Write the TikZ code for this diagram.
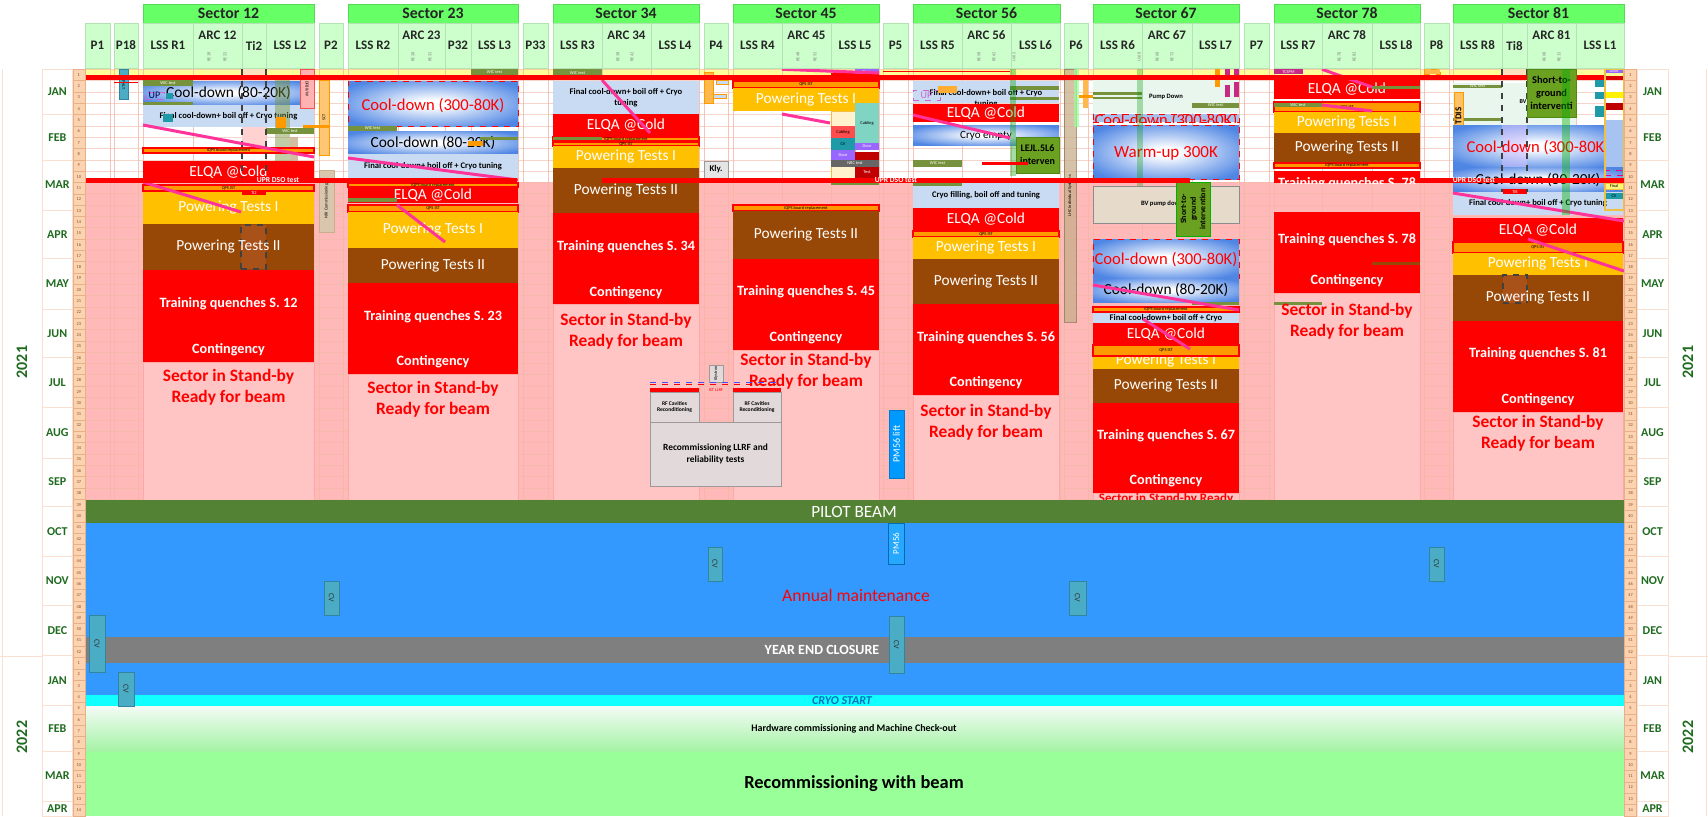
\documentclass[tikz,border=0pt]{standalone}
\usepackage{fontspec}
\setmainfont{Carlito}
\definecolor{hdrg}{HTML}{66FF66}
\definecolor{subg}{HTML}{CCFFCC}
\definecolor{subgb}{HTML}{B3E3B3}
\definecolor{mon}{HTML}{1F6B1F}
\definecolor{wkc}{HTML}{FBD3B0}
\definecolor{wkb}{HTML}{E8B088}
\definecolor{wkt}{HTML}{8A4A20}
\definecolor{powI}{HTML}{FFC000}
\definecolor{powII}{HTML}{974806}
\definecolor{lbl}{HTML}{C9DBF2}
\definecolor{coolb}{HTML}{4F86E4}
\definecolor{coolb2}{HTML}{A9C4F2}
\definecolor{qpso}{HTML}{FF9900}
\definecolor{wicg}{HTML}{76923C}
\definecolor{pinkbg}{HTML}{FFB9B9}
\definecolor{sbpink}{HTML}{FFC4C4}
\definecolor{sbline}{HTML}{FFA8A8}
\definecolor{mag}{HTML}{FF3399}
\definecolor{pilot}{HTML}{548235}
\definecolor{maint}{HTML}{3399FF}
\definecolor{yec}{HTML}{7F7F7F}
\definecolor{cyanb}{HTML}{11FFFF}
\definecolor{hwtop}{HTML}{F4FBF6}
\definecolor{hwbot}{HTML}{A3F3A3}
\definecolor{recom}{HTML}{99FF99}
\definecolor{cvt}{HTML}{4BACC6}
\definecolor{cvtb}{HTML}{31859C}
\definecolor{stg}{HTML}{6AA121}
\definecolor{stgb}{HTML}{4E8A12}
\definecolor{gridc}{HTML}{F2B8A8}
\definecolor{rfg}{HTML}{E2DADA}
\definecolor{rfgb}{HTML}{A09898}
\definecolor{tanc}{HTML}{C8AE8A}
\definecolor{peach}{HTML}{FCE0C0}
\definecolor{mint}{HTML}{E8F6EE}
\definecolor{lyel}{HTML}{FFFF99}
\definecolor{purp}{HTML}{9966FF}
\definecolor{dred}{HTML}{C00000}
\definecolor{tealc}{HTML}{1F9AA8}
\definecolor{cablc}{HTML}{7FD4C4}
\definecolor{crblue}{HTML}{0070C0}
\definecolor{pmc}{HTML}{0099FF}
\definecolor{upc}{HTML}{CC66CC}
\definecolor{lemon}{HTML}{FFF2CC}
\definecolor{ambr}{HTML}{F2C040}
\definecolor{mcell}{HTML}{F9E0D0}
\definecolor{tibox}{HTML}{A8521A}
\pgfdeclareradialshading{coolsh}{\pgfpoint{0bp}{0bp}}{color(0bp)=(white); color(4bp)=(white); color(17bp)=(coolb2); color(31bp)=(coolb); color(50bp)=(coolb)}
\newcommand\fsz[2]{\fontsize{#1}{#2}\selectfont}
\newcommand\bk[6]{\node[bkb,#6,minimum width={(#4-(#2))*0.5pt},minimum height={(#5-(#3))*0.5pt}] (#1) at ({(#2+#4)/2},{(#3+#5)/2}) {};}
\newcommand\bkt[8]{\bk{#1}{#2}{#3}{#4}{#5}{#6}\node[#7] (#1-t) at (#1.center) {#8};}
\tikzset{
 bkb/.style={rectangle, inner sep=0pt, outer sep=0pt},
 redb/.style={fill=red},
 pIb/.style={fill=powI},
 pIIb/.style={fill=powII},
 lbb/.style={fill=lbl},
 coolbx/.style={shading=coolsh},
 coolrd/.style={shading=coolsh, draw=red, dashed, line width=0.5pt},
 qpsb/.style={fill=qpso, draw=red, line width=0.8pt},
 wicb/.style={fill=wicg},
 sbb/.style={fill=sbpink, draw=sbline, line width=0.3pt},
 twt/.style={inner sep=0pt, align=center, text=white, font=\fsz{7.7}{9}},
 tbk/.style={inner sep=0pt, align=center, text=black, font=\fsz{7.7}{9}},
 trd/.style={inner sep=0pt, align=center, text=red, font=\fsz{8.3}{9}},
 twbd/.style={inner sep=0pt, align=center, text=white, font=\bfseries\fsz{7.1}{8}},
 sbt/.style={inner sep=0pt, align=center, text=red, font=\bfseries\fsz{8.7}{10.5}},
 fint/.style={inner sep=0pt, align=center, text=black, font=\bfseries\fsz{4.3}{5.5}},
 tnyt/.style={inner sep=0pt, align=center, font=\fsz{2.2}{2.6}},
 mline/.style={mag, line width=1.5pt},
 moncell/.style={fill=white, draw=mcell, line width=0.3pt},
 mont/.style={inner sep=0pt, font=\bfseries\fsz{6}{6}, text=mon},
 wkcell/.style={rectangle, fill=wkc, draw=wkb, line width=0.2pt, inner sep=0pt, minimum width=6.15pt, minimum height=5.655pt, font=\fsz{2.2}{2.4}, text=wkt},
 sechd/.style={fill=hdrg, draw=hdrg!85!black, line width=0.3pt},
 sechdt/.style={inner sep=0pt, font=\bfseries\fsz{7.9}{8}, text=black!85},
 subhd/.style={fill=subg, draw=subgb, line width=0.4pt},
 subhdt/.style={inner sep=0pt, font=\bfseries\fsz{6.5}{7}, text=black!85},
 arcl/.style={inner sep=0pt, rotate=90, font=\fsz{2.2}{2.4}, text=black!50},
 yrt/.style={inner sep=0pt, rotate=90, font=\bfseries\fsz{8}{8}, text=mon},
 cvb/.style={fill=cvt, draw=cvtb, line width=0.4pt},
 cvtx/.style={inner sep=0pt, rotate=-90, font=\fsz{4}{4}, text=black!80},
 rfbox/.style={fill=rfg, draw=rfgb, line width=0.5pt},
 dashv/.style={black!75, dashed, line width=0.6pt},
}
\begin{document}
\begin{tikzpicture}[x=0.5pt,y=-0.5pt]
\useasboundingbox (0,0) rectangle (1708,816);
\fill[white] (0,0) rectangle (1708,816);
% backgrounds
\fill[pinkbg] (85,182) rectangle (1624,500);
\fill[lyel] (85,69.3) rectangle (1624,80);
\foreach \r in {0,...,38}{\draw[gridc, opacity=0.6, line width=0.25pt] (85,{69.3+\r*11.31}) -- (1624,{69.3+\r*11.31});}
\foreach \x in {85,110,114,138,143,193,242,266,314,319,343,348,398,445,471,518,523,548,553,602,651,699,704,728,733,782,831,879,883,908,913,962,1011,1060,1064,1088,1093,1142,1192,1239,1244,1269,1274,1322,1372,1420,1424,1449,1453,1502,1527,1576,1624}{\draw[gridc, opacity=0.8, line width=0.25pt] (\x,69.3) -- (\x,500);}
% stand-by boxes
\bk{sb12}{143}{362}{314}{500}{sbb}
\bk{sb23}{348}{374}{518}{500}{sbb}
\bk{sb34}{553}{304}{699}{500}{sbb}
\bk{sb45}{733}{350}{879}{500}{sbb}
\bk{sb56}{913}{395}{1059}{500}{sbb}
\bk{sb67}{1093}{493}{1239}{500}{sbb}
\bk{sb78}{1274}{293}{1420}{500}{sbb}
\bk{sb81}{1453}{412}{1623}{500}{sbb}
% ---------------- Sector 12
\bkt{s12cd}{143}{81}{314}{104}{coolbx}{tbk}{Cool-down (80-20K)}
\bkt{s12w1}{143}{80}{193}{86}{wicb}{tnyt,text=white}{WIC test}
\bk{s12w2}{143}{102}{193}{106}{wicb}
\bkt{s12up}{145}{92}{164}{99}{draw=upc, dashed, line width=0.4pt}{inner sep=0pt, font=\fsz{5}{5}, text=black!70!blue}{UP}
\bk{s12tl}{166}{93}{173}{99}{fill=tealc}
\bkt{s12fc}{143}{105}{314}{127}{lbb}{fint}{Final cool-down+ boil off + Cryo tuning}
\bk{s12t2}{163}{114}{173}{122}{fill=tealc}
\bk{s12tia}{242}{69.3}{266}{80}{fill=peach}
\bk{s12tib}{242}{127}{266}{152}{fill=red!18}
\bk{s12ugr}{275}{80}{290}{180}{fill=wicg, opacity=0.45}
\bk{s12or}{276}{117}{286}{128}{fill=qpso}
\bkt{s12dfb}{300}{69.3}{314}{108}{fill=red!30, draw=red!70, line width=0.4pt}{tnyt, rotate=-90}{DFBX/W}
\bkt{s12w3}{266}{128}{314}{134}{wicb}{tnyt,text=white}{WIC test}
\bk{s12tn}{290}{137}{298}{168}{fill=tanc, opacity=0.8}
\bkt{s12iq}{143}{148}{314}{153}{qpsb}{tnyt}{iQPS board replacement}
\bkt{s12el}{143}{161}{314}{183}{redb}{twt}{ELQA @Cold}
\bkt{s12qi}{143}{185}{314}{191}{qpsb}{tnyt}{QPS IST}
\bkt{s12p1}{143}{192}{314}{224}{pIb}{twt}{Powering Tests I}
\bkt{s12ti}{242}{190}{266}{195}{redb}{tnyt,text=white}{Ti2}
\bk{s12p2}{143}{224}{314}{270}{pIIb}
\bk{s12d}{241}{225}{266}{269}{fill=tibox, draw=black!75, dashed, line width=0.6pt}
\node[twt] (s12p2t) at (s12p2.center) {Powering Tests II};
\bkt{s12tq}{143}{270}{314}{337}{redb}{twbd}{Training quenches S. 12}
\bkt{s12ct}{143}{337}{314}{362}{redb}{twbd}{Contingency}
\node[sbt] (s12sb) at (228.5,387.5) {Sector in Stand-by\\Ready for beam};
\draw[dashv] (242,69.3) -- (242,182) (266,69.3) -- (266,182);
\coordinate (m12a) at (143,125); \coordinate (m12b) at (314,157);
\coordinate (m12c) at (143,182); \coordinate (m12d) at (241,212);
\draw[mline] (m12a) -- (m12b); \draw[mline] (m12c) -- (m12d);
% P18, P2
\bkt{p18a}{119}{69.3}{128}{99}{fill=cvt, draw=cvtb, line width=0.3pt}{tnyt, rotate=-90}{SF+ILT}
\bkt{p2sct}{319}{80}{329}{155}{fill=qpso!55, draw=qpso, line width=0.3pt}{tnyt,rotate=90}{SCT}
\bk{p2or}{303}{125}{329}{127.5}{fill=qpso}
\bkt{p2nri}{319}{170}{334}{232}{fill=tanc!70, draw=tanc, line width=0.3pt}{tnyt,rotate=90}{NRI Commissioning}
% ---------------- Sector 23
\bkt{s23w0}{471}{69.3}{518}{75}{wicb}{tnyt,text=white}{WIC test}
\bk{s23cd1}{348}{81}{518}{126}{coolrd}
\node[trd] (s23cd1t) at (433,106) {Cool-down (300-80K)};
\bkt{s23w1}{348}{126}{397}{131}{wicb}{tnyt,text=white}{WIC test}
\bkt{s23cd2}{348}{131}{518}{154}{coolbx}{tbk}{Cool-down (80-20K)}
\bk{s23w2}{480}{137}{518}{140}{wicb}
\bk{s23or}{468}{141}{483}{146}{fill=qpso}
\bkt{s23fc}{348}{154}{518}{178}{lbb}{fint}{Final cool-down+ boil off + Cryo tuning}
\bkt{s23iq}{348}{183}{518}{187}{qpsb}{tnyt}{iQPS board replacement}
\bkt{s23el}{348}{187}{518}{203}{redb}{twt}{ELQA @Cold}
\bk{s23w3}{348}{198}{397}{202}{wicb}
\bkt{s23qi}{348}{205}{518}{212}{qpsb}{tnyt}{QPS IST}
\bkt{s23p1}{348}{212}{518}{248}{pIb}{twt}{Powering Tests I}
\bkt{s23p2}{348}{248}{518}{283}{pIIb}{twt}{Powering Tests II}
\bkt{s23tq}{348}{283}{518}{350}{redb}{twbd}{Training quenches S. 23}
\bkt{s23ct}{348}{350}{518}{374}{redb}{twbd}{Contingency}
\node[sbt] (s23sb) at (433,399.5) {Sector in Stand-by\\Ready for beam};
\coordinate (m23a) at (348,158); \coordinate (m23b) at (518,180);
\coordinate (m23c) at (397,205); \coordinate (m23d) at (445,242);
\draw[mline] (m23a) -- (m23b); \draw[mline] (m23c) -- (m23d);
% ---------------- Sector 34
\bkt{s34w0}{553}{69.3}{602}{76}{wicb}{tnyt,text=white}{WIC test}
\bkt{s34fc}{553}{81}{699}{114}{lbb}{fint}{Final cool-down+ boil off + Cryo\\tuning}
\bkt{s34el}{553}{114}{699}{137}{redb}{twt}{ELQA @Cold}
\bkt{s34iq}{553}{137}{699}{141}{qpsb}{tnyt}{iQPS board replacement}
\bk{s34w1}{553}{137}{602}{140}{wicb}
\bkt{s34qi}{553}{142}{699}{146}{qpsb}{tnyt}{QPS IST}
\bkt{s34p1}{553}{146}{699}{168}{pIb}{twt}{Powering Tests I}
\bkt{s34p2}{553}{168}{699}{213}{pIIb}{twt}{Powering Tests II}
\bkt{s34tq}{553}{213}{699}{281}{redb}{twbd}{Training quenches S. 34}
\bkt{s34ct}{553}{281}{699}{304}{redb}{twbd}{Contingency}
\node[sbt] (s34sb) at (626,331.5) {Sector in Stand-by\\Ready for beam};
\coordinate (m34a) at (602,80); \coordinate (m34b) at (650,133);
\draw[mline] (m34a) -- (m34b);
% P4
\bk{p4a}{704}{72}{713}{103}{fill=qpso!70, draw=qpso, line width=0.3pt}
\bk{p4b}{716}{80}{728}{84}{fill=lbl, draw=qpso, line width=0.3pt}
\bk{p4c}{713}{94}{726}{98}{fill=lbl, draw=qpso, line width=0.3pt}
\bkt{p4k}{704}{161}{728}{178}{fill=black!10, draw=black!40, line width=0.4pt}{inner sep=0pt, font=\bfseries\fsz{4.4}{5}}{Kly.}
% ---------------- Sector 45
\bk{s45rf}{831}{73}{879}{80}{redb}
\bkt{s45door}{855}{69.3}{879}{74}{fill=purp}{tnyt,text=white}{Door}
\bkt{s45qi}{733}{81}{879}{88}{qpsb}{tnyt}{QPS IST}
\bkt{s45p1}{733}{88}{879}{111}{pIb}{twt}{Powering Tests I}
\bk{s45ly}{831}{111}{855}{178}{fill=lemon, draw=ambr, line width=0.4pt}
\bkt{s45cab}{855}{103}{879}{143}{fill=cablc}{tnyt}{Cabling}
\bkt{s45cb2}{831}{126}{855}{138}{fill=red!70}{tnyt}{Cabling}
\bkt{s45cv}{831}{138}{855}{150}{fill=tealc}{tnyt}{CV}
\bkt{s45d1}{855}{143}{879}{150}{fill=purp}{tnyt,text=white}{Door}
\bkt{s45d2}{831}{150}{855}{160}{fill=purp}{tnyt,text=white}{Door}
\bk{s45r1}{855}{152}{879}{160}{fill=dred}
\bkt{s45nrc}{831}{160}{879}{167}{fill=black!60}{tnyt,text=white}{NRC test}
\bkt{s45r2}{855}{167}{879}{178}{fill=dred}{tnyt,text=white}{Test}
\bk{s45w}{831}{180}{879}{185}{wicb}
\bkt{s45iq}{733}{205}{879}{211}{qpsb}{tnyt}{iQPS board replacement}
\bkt{s45p2}{733}{211}{879}{259}{pIIb}{twt}{Powering Tests II}
\bkt{s45tq}{733}{259}{879}{325}{redb}{twbd}{Training quenches S. 45}
\bkt{s45ct}{733}{325}{879}{350}{redb}{twbd}{Contingency}
\node[sbt] (s45sb) at (806,371.5) {Sector in Stand-by\\Ready for beam};
\coordinate (m45a) at (782,69.3); \coordinate (m45b) at (879,73);
\coordinate (m45c) at (782,114); \coordinate (m45d) at (830,123);
\draw[mline] (m45a) -- (m45b); \draw[mline] (m45c) -- (m45d);
% RF recommissioning
\bkt{rfk}{709}{365}{723}{382}{rfbox}{tnyt,rotate=90}{Klystron}
\coordinate (rfd1) at (650,382); \coordinate (rfd2) at (781,382);
\coordinate (rfd3) at (650,384); \coordinate (rfd4) at (781,384);
\draw[blue!70, dashed, line width=0.5pt] (rfd1) -- (rfd2);
\draw[red, dashed, line width=0.5pt] (rfd3) -- (rfd4);
\bk{rfr1}{650}{388}{699}{392}{redb}
\bk{rfr2}{733}{388}{781}{392}{redb}
\node[tnyt, text=red] (rfist) at (716,390) {IST LLRF};
\bkt{rfc1}{650}{392}{699}{422}{rfbox}{inner sep=0pt, align=center, font=\bfseries\fsz{2.8}{3.4}}{RF Cavities\\Reconditioning}
\bkt{rfc2}{733}{392}{781}{422}{rfbox}{inner sep=0pt, align=center, font=\bfseries\fsz{2.8}{3.4}}{RF Cavities\\Reconditioning}
\bkt{rfrec}{650}{422}{781}{486}{rfbox}{inner sep=0pt, align=center, font=\bfseries\fsz{4.7}{6}}{Recommissioning LLRF and\\reliability tests}
% P5
\bk{p5r}{883}{70.5}{1010}{72}{redb}
\bkt{p5pm}{889}{410}{904}{478}{fill=pmc, draw=pmc!80!black, line width=0.3pt}{inner sep=0pt, rotate=90, text=white, font=\fsz{5}{5}}{PM56 lift}
% ---------------- Sector 56
\bk{s56fc}{913}{81}{1059}{103}{lbb}
\node[fint] (s56fct) at (986,93) {Final cool-down+ boil off + Cryo};
\node[fint] (s56fcu) at (986,104) {tuning};
\bkt{s56up}{913}{90}{940}{100}{draw=upc, dashed, line width=0.4pt}{inner sep=0pt, font=\fsz{5}{5}, text=upc}{UP}
\bk{s56or}{938}{86}{957}{93}{fill=qpso!80}
\bk{s56w1}{1010}{86}{1059}{90}{wicb}
\bk{s56w2}{1010}{97}{1059}{100}{wicb}
\bkt{s56el}{913}{104}{1059}{122}{redb}{twt}{ELQA @Cold}
\bk{s56ce}{913}{125}{1059}{145}{coolbx}
\node[inner sep=0pt, font=\fsz{5.5}{6}] (s56cet) at (986,136) {Cryo empty};
\bkt{s56lej}{1016}{137}{1059}{173}{fill=stg, draw=stgb, line width=0.4pt}{inner sep=0pt, align=center, font=\bfseries\fsz{5}{6.5}}{LEJL.5L6\\interven}
\bk{s56gv}{1010}{69.3}{1016}{176}{fill=green!60!black, opacity=0.35}
\bkt{s56w3}{913}{160}{962}{167}{wicb}{tnyt,text=white}{WIC test}
\bk{s56rb}{982}{162}{1028}{165}{redb}
\bkt{s56cf}{913}{183}{1059}{208}{lbb}{fint}{Cryo filling, boil off and tuning}
\bk{s56w4}{913}{182}{962}{186}{wicb}
\bkt{s56el2}{913}{208}{1059}{231}{redb}{twt}{ELQA @Cold}
\bkt{s56qi}{913}{231}{1059}{237}{qpsb}{tnyt}{QPS IST}
\bkt{s56p1}{913}{237}{1059}{259}{pIb}{twt}{Powering Tests I}
\bkt{s56p2}{913}{259}{1059}{304}{pIIb}{twt}{Powering Tests II}
\bkt{s56tq}{913}{304}{1059}{371}{redb}{twbd}{Training quenches S. 56}
\bkt{s56ct}{913}{371}{1059}{395}{redb}{twbd}{Contingency}
\node[sbt] (s56sb) at (986,422.5) {Sector in Stand-by\\Ready for beam};
\coordinate (m56a) at (913,115); \coordinate (m56b) at (1010,138);
\draw[mline] (m56a) -- (m56b);
% P6
\bkt{p6t}{1064}{69.3}{1076}{322}{fill=tanc, opacity=0.75, draw=tanc!70!black, line width=0.3pt}{tnyt,rotate=90}{LHC Individual Systems}
\bk{p6g}{1074}{69.3}{1079}{127}{fill=green!40, opacity=0.7}
\bk{p6o}{1083}{80}{1088}{108}{fill=qpso!70}
\bk{p6o2}{1079}{95}{1103}{98}{fill=qpso}
% ---------------- Sector 67
\bkt{s67pd}{1093}{80}{1239}{113}{fill=mint}{inner sep=0pt, font=\bfseries\fsz{3.3}{4}}{Pump Down}
\bk{s67w1}{1093}{92}{1142}{95}{wicb}
\bk{s67w2}{1093}{97}{1142}{99}{wicb}
\bkt{s67w3}{1192}{103}{1239}{108}{wicb}{tnyt,text=white}{WIC test}
\bk{s67o}{1215}{69.3}{1220}{87}{fill=qpso}
\bk{s67m1}{1225}{69.3}{1230}{75}{fill=magenta!80!black}
\bk{s67m2}{1225}{85}{1230}{97}{fill=magenta!80!black}
\bk{s67m3}{1234}{69.3}{1239}{76}{fill=magenta!80!black}
\bk{s67m4}{1234}{82}{1239}{97}{fill=magenta!80!black}
\bk{s67c0}{1093}{114}{1239}{122}{fill=lbl!70!coolb, draw=red, dashed, line width=0.5pt}
\begin{scope}
\clip (1093,114) rectangle (1239,122);
\node[trd] (s67c0t) at (1166,121) {Cool-down (300-80K)};
\end{scope}
\bk{s67wu}{1093}{125}{1239}{179}{coolrd}
\node[trd, font=\fsz{8.5}{9}] (s67wut) at (1166,153) {Warm-up 300K};
\bk{s67gv}{1137}{69.3}{1143}{192}{fill=green!60!black, opacity=0.3}
\bk{s67bv}{1093}{186}{1239}{223}{fill=tanc!45, draw=black!45, line width=0.4pt}
\node[inner sep=0pt, font=\bfseries\fsz{3.3}{4}] (s67bvt) at (1162,204) {BV pump down};
\bkt{s67stg}{1176}{182}{1210}{236}{fill=stg, draw=green!70!black, line width=0.5pt}{inner sep=0pt, rotate=90, align=center, font=\bfseries\fsz{4}{4.8}}{Short-to-\\ground\\intervention}
\bk{s67cd1}{1093}{239}{1239}{278}{coolrd}
\node[trd] (s67cd1t) at (1166,260) {Cool-down (300-80K)};
\bkt{s67cd2}{1093}{278}{1239}{302}{coolbx}{tbk}{Cool-down (80-20K)}
\bk{s67w4}{1192}{302}{1239}{305}{wicb}
\bk{s67fc}{1093}{312}{1239}{323}{lbb}
\node[fint] (s67fct) at (1166,318) {Final cool-down+ boil off + Cryo};
\bkt{s67iq}{1093}{307}{1239}{312}{qpsb}{tnyt}{iQPS board replacement}
\bkt{s67el}{1093}{323}{1239}{345}{redb}{twt}{ELQA @Cold}
\bk{s67p1}{1093}{356}{1239}{369}{pIb}
\node[twt] (s67p1t) at (1166,361) {Powering Tests I};
\bkt{s67qi}{1093}{345}{1239}{356}{qpsb}{tnyt}{QPS IST}
\bkt{s67p2}{1093}{369}{1239}{403}{pIIb}{twt}{Powering Tests II}
\bkt{s67tq}{1093}{403}{1239}{468}{redb}{twbd}{Training quenches S. 67}
\bkt{s67ct}{1093}{468}{1239}{493}{redb}{twbd}{Contingency}
\node[sbt, font=\bfseries\fsz{6.5}{8}] (s67sb) at (1166,506) {Sector in Stand-by Ready\\for beam};
\coordinate (m67a) at (1093,285); \coordinate (m67b) at (1239,310);
\coordinate (m67c) at (1143,319); \coordinate (m67d) at (1190,349);
\draw[mline] (m67a) -- (m67b); \draw[mline] (m67c) -- (m67d);
% ---------------- Sector 78
\bkt{s78tc}{1274}{69.3}{1303}{74}{fill=magenta!80!black}{tnyt,text=white}{TCSPM}
\bkt{s78el}{1274}{79}{1420}{99}{redb}{twt}{ELQA @Cold}
\bk{s78w1}{1372}{86}{1420}{89}{wicb}
\bkt{s78qi}{1274}{102}{1420}{112}{qpsb}{tnyt}{QPS IST}
\bkt{s78w2}{1274}{103}{1322}{107}{wicb}{tnyt,text=white}{WIC test}
\bkt{s78p1}{1274}{112}{1420}{133}{pIb}{twt}{Powering Tests I}
\bkt{s78p2}{1274}{133}{1420}{162}{pIIb}{twt}{Powering Tests II}
\bkt{s78iq}{1274}{163}{1420}{168}{qpsb}{tnyt}{iQPS board replacement}
\bk{s78tq0}{1274}{171}{1420}{183}{redb}
\begin{scope}
\clip (1274,171) rectangle (1420,183);
\node[twbd, text height=4pt, text depth=0pt] (s78tq0t) at (1347,183) {Training quenches S. 78};
\end{scope}
\bkt{s78tq}{1274}{212}{1420}{268}{redb}{twbd}{Training quenches S. 78}
\bk{s78br}{1372}{262}{1420}{265}{fill=powII}
\bkt{s78ct}{1274}{268}{1420}{293}{redb}{twbd}{Contingency}
\bk{s78w3}{1274}{302}{1322}{305}{wicb}
\node[sbt] (s78sb) at (1347,321.5) {Sector in Stand-by\\Ready for beam};
\coordinate (m78a) at (1322,69.3); \coordinate (m78b) at (1372,87);
\coordinate (m78c) at (1322,105); \coordinate (m78d) at (1372,111);
\draw[mline] (m78a) -- (m78b); \draw[mline] (m78c) -- (m78d);
% P8
\bk{p8a}{1424}{69.3}{1440}{74}{fill=qpso!70, draw=qpso, dashed, line width=0.3pt}
% ---------------- Sector 81
\bk{s81ti}{1502}{69.3}{1527}{80}{fill=peach}
\bk{s81mt}{1453}{83}{1576}{125}{fill=mint}
\bkt{s81w1}{1453}{85}{1502}{88}{wicb}{tnyt,text=white}{WIC test}
\bk{s81w2}{1453}{118}{1502}{121}{wicb}
\node[inner sep=0pt, font=\bfseries\fsz{3}{3}] (s81bv) at (1523,102) {BV};
\bkt{s81td}{1454}{92}{1463}{140}{fill=qpso!60, draw=qpso, line width=0.3pt}{inner sep=0pt, rotate=90, font=\bfseries\fsz{4.5}{5}}{TDIS}
\bk{s81cd1}{1453}{125}{1623}{167}{coolbx}
\bk{s81tiv}{1502}{125}{1527}{167}{fill=purp!40, opacity=0.5}
\node[trd] (s81cd1t) at (1538,148) {Cool-down (300-80K)};
\bkt{s81cd2}{1453}{167}{1623}{192}{coolbx}{tbk}{Cool-down (80-20K)}
\bkt{s81fc}{1453}{192}{1623}{215}{lbb}{fint}{Final cool-down+ boil off + Cryo tuning}
\bkt{s81ti8}{1503}{189}{1527}{194}{redb}{tnyt,text=white}{Ti8}
\bkt{s81el}{1453}{218}{1623}{242}{redb}{twt}{ELQA @Cold}
\bkt{s81qi}{1453}{242}{1623}{253}{qpsb}{tnyt}{QPS IST}
\bkt{s81p1}{1453}{253}{1623}{275}{pIb}{twt}{Powering Tests I}
\bk{s81p2}{1453}{275}{1623}{321}{pIIb}
\bk{s81d}{1503}{275}{1527}{303}{fill=tibox, draw=black!75, dashed, line width=0.6pt}
\node[twt] (s81p2t) at (s81p2.center) {Powering Tests II};
\bkt{s81tq}{1453}{321}{1623}{387}{redb}{twbd}{Training quenches S. 81}
\bkt{s81ct}{1453}{387}{1623}{412}{redb}{twbd}{Contingency}
\node[sbt] (s81sb) at (1538,433.5) {Sector in Stand-by\\Ready for beam};
\draw[dashv] (1502,69.3) -- (1502,192) (1527,69.3) -- (1527,192);
\coordinate (m81a) at (1453,193); \coordinate (m81b) at (1624,221);
\coordinate (m81c) at (1528,239); \coordinate (m81d) at (1624,271);
\draw[mline] (m81a) -- (m81b); \draw[mline] (m81c) -- (m81d);
% red line 1
\bk{rl1}{85}{75}{1605}{80}{redb}
\bk{p18r}{114}{81.5}{138}{83}{redb}
% sector 81 overlays
\bkt{s81stg}{1527}{69.3}{1576}{117}{fill=stg, draw=stgb, line width=0.4pt}{inner sep=0pt, align=center, font=\bfseries\fsz{5.2}{6.5}}{Short-to-\\ground\\interventi}
\bk{s81gv}{1562}{69.3}{1570}{215}{fill=green!70!black, opacity=0.4}
\bk{s81l1}{1605}{120}{1623}{167}{fill=coolb!50}
\bkt{s81door}{1605}{69.3}{1623}{73}{fill=purp}{tnyt,text=white}{Door}
\bk{s81r1}{1605}{76}{1623}{80}{fill=red!85!black}
\bk{s81t1}{1595}{80}{1605}{87}{fill=tealc}
\bk{s81t2}{1595}{92}{1605}{99}{fill=tealc}
\bk{s81t3}{1595}{106}{1605}{117}{fill=tealc}
\bk{s81y1}{1605}{92}{1623}{98}{fill=yellow}
\bk{s81r2}{1605}{103}{1623}{110}{fill=dred}
\bk{s81mg}{1605}{170}{1623}{175}{draw=magenta, dashed, line width=0.3pt}
\bkt{s81fn}{1605}{183}{1623}{189}{fill=lemon!60!yellow, draw=ambr, line width=0.3pt}{tnyt}{Final}
\bkt{s81cv}{1605}{193}{1623}{199}{fill=tealc}{tnyt}{CV}
\bk{s81yo}{1605}{69.3}{1624}{210}{draw=ambr, line width=0.6pt}
% red line 2
\bk{rl2a}{85}{178}{517}{183}{redb}
\bk{rl2b}{602}{178}{1190}{183}{redb}
\bk{rl2c}{1420}{178}{1624}{183}{redb}
\node[inner sep=0pt, text=white, font=\bfseries\fsz{3.8}{4}] (upr1) at (278,180.5) {UPR DSO test};
\node[inner sep=0pt, text=white, font=\bfseries\fsz{3.8}{4}] (upr2) at (896,180.5) {UPR DSO test};
\node[inner sep=0pt, text=white, font=\bfseries\fsz{3.8}{4}] (upr3) at (1474,180.5) {UPR DSO test};
% ---------------- bottom bands
\bk{pil}{85}{500}{1624}{523}{fill=pilot}
\node[inner sep=0pt, text=white, font=\fsz{8.6}{9}] (pilt) at (854,512) {PILOT BEAM};
\bk{mnt}{85}{523}{1624}{695}{fill=maint}
\bk{yend}{85}{637}{1624}{663}{fill=yec}
\node[inner sep=0pt, text=white, font=\bfseries\fsz{7}{8}] (yendt) at (822,650) {YEAR END CLOSURE};
\node[inner sep=0pt, text=red, font=\fsz{8.8}{9}] (amt) at (856,595) {Annual maintenance};
\bk{cry}{85}{695}{1624}{706}{fill=cyanb}
\node[inner sep=0pt, text=crblue, font=\bfseries\itshape\fsz{6}{6}] (cryt) at (842,700.5) {CRYO START};
\bk{hw}{85}{706}{1624}{752}{top color=hwtop, bottom color=hwbot}
\node[inner sep=0pt, font=\bfseries\fsz{5}{6}] (hwt) at (854,729) {Hardware commissioning and Machine Check-out};
\bk{rec}{85}{752}{1624}{816}{fill=recom}
\node[inner sep=0pt, font=\bfseries\fsz{9.2}{10}] (rect) at (854,784) {Recommissioning with beam};
\bkt{pm56}{888}{523}{904}{564}{fill=pmc!85!white, draw=pmc!70!black, line width=0.3pt}{inner sep=0pt, rotate=90, text=white, font=\fsz{4.5}{5}}{PM56}
\bkt{cv1}{89}{615}{105}{672}{cvb}{cvtx}{CV}
\bkt{cv2}{118}{672}{134}{706}{cvb}{cvtx}{CV}
\bkt{cv3}{324}{581}{339}{615}{cvb}{cvtx}{CV}
\bkt{cv4}{708}{547}{722}{581}{cvb}{cvtx}{CV}
\bkt{cv5}{889}{616}{904}{673}{cvb}{cvtx}{CV}
\bkt{cv6}{1069}{581}{1086}{615}{cvb}{cvtx}{CV}
\bkt{cv7}{1429}{547}{1444}{581}{cvb}{cvtx}{CV}
% ---------------- header
\bkt{hS12}{143}{4}{314}{23}{sechd}{sechdt}{Sector 12}
\bkt{hS23}{348}{4}{518}{23}{sechd}{sechdt}{Sector 23}
\bkt{hS34}{553}{4}{699}{23}{sechd}{sechdt}{Sector 34}
\bkt{hS45}{733}{4}{879}{23}{sechd}{sechdt}{Sector 45}
\bkt{hS56}{913}{4}{1060}{23}{sechd}{sechdt}{Sector 56}
\bkt{hS67}{1093}{4}{1239}{23}{sechd}{sechdt}{Sector 67}
\bkt{hS78}{1274}{4}{1420}{23}{sechd}{sechdt}{Sector 78}
\bkt{hS81}{1453}{4}{1624}{23}{sechd}{sechdt}{Sector 81}
\foreach \n/\a/\b/\t in {P1/85/110/P1, P18/114/138/P18, R1/143/193/LSS R1, Ti2/242/266/Ti2, L2/266/314/LSS L2, P2/319/343/P2, R2/348/398/LSS R2, P32/445/471/P32, L3/471/518/LSS L3, P33/523/548/P33, R3/553/602/LSS R3, L4/651/699/LSS L4, P4/704/728/P4, R4/733/782/LSS R4, L5/831/879/LSS L5, P5/883/908/P5, R5/913/962/LSS R5, L6/1011/1060/LSS L6, P6/1064/1088/P6, R6/1093/1142/LSS R6, L7/1192/1239/LSS L7, P7/1244/1269/P7, R7/1274/1322/LSS R7, L8/1372/1420/LSS L8, P8/1424/1449/P8, R8/1453/1502/LSS R8, Ti8/1502/1527/Ti8, L1/1576/1624/LSS L1}
 {\bkt{h\n}{\a}{23}{\b}{68}{subhd}{subhdt}{\t}}
\foreach \n/\a/\b/\t/\u/\v/\ua/\va in {12/193/242/ARC 12/RE18/RE22/209/225, 23/398/445/ARC 23/RE28/RE32/413/430, 34/602/651/ARC 34/RE38/RE42/618/632, 45/782/831/ARC 45/RE48/RE52/798/815, 56/962/1011/ARC 56/RE58/RE62/979/994, 67/1142/1192/ARC 67/RE68/RE72/1157/1172, 78/1322/1372/ARC 78/RE78/RE82/1339/1354, 81/1527/1576/ARC 81/RE08/RE12/1544/1559}
 {\bk{hA\n}{\a}{23}{\b}{68}{subhd}
  \node[subhdt] (hA\n-t) at ({(\a+\b)/2},35) {\t};
  \node[arcl] (hA\n-u) at (\ua,57) {\u};
  \node[arcl] (hA\n-v) at (\va,57) {\v};}
\node[arcl] (uj62) at (1014,57) {UJ62};
\node[arcl] (uj68) at (1139,57) {UJ68};
% ---------------- side columns
\foreach \r in {1,...,66}{
 \pgfmathtruncatemacro\wk{\r>52 ? \r-52 : \r}
 \pgfmathsetmacro\yc{69.3+(\r-0.5)*11.31}
 \node[wkcell] (wl\r) at (78.85,\yc) {\wk};
 \node[wkcell] (wr\r) at (1630.5,\yc) {\wk};
}
\foreach \a/\b/\m [count=\i] in {69.3/114.6/JAN, 114.6/159.9/FEB, 159.9/210.1/MAR, 210.1/258.7/APR, 258.7/308.9/MAY, 308.9/357.4/JUN, 357.4/407.6/JUL, 407.6/457.8/AUG, 457.8/506.3/SEP, 506.3/556.5/OCT, 556.5/605.1/NOV, 605.1/655.3/DEC, 655.3/705.5/JAN, 705.5/750.8/FEB, 750.8/801/MAR, 801/816/APR}{
 \bkt{ml\i}{42}{\a}{72.7}{\b}{moncell}{mont}{\m}
 \bkt{mr\i}{1637}{\a}{1668}{\b}{moncell}{mont}{\m}
}
\draw[mcell, line width=0.4pt] (0,656) -- (42,656) (1668,656) -- (1708,656);
\draw[mcell, line width=0.4pt] (2,69.3) -- (2,816) (1706,69.3) -- (1706,816);
\node[yrt] (y21l) at (22,362) {2021};
\node[yrt] (y22l) at (22,737) {2022};
\node[yrt] (y21r) at (1688,362) {2021};
\node[yrt] (y22r) at (1688,737) {2022};
\end{tikzpicture}
\end{document}
